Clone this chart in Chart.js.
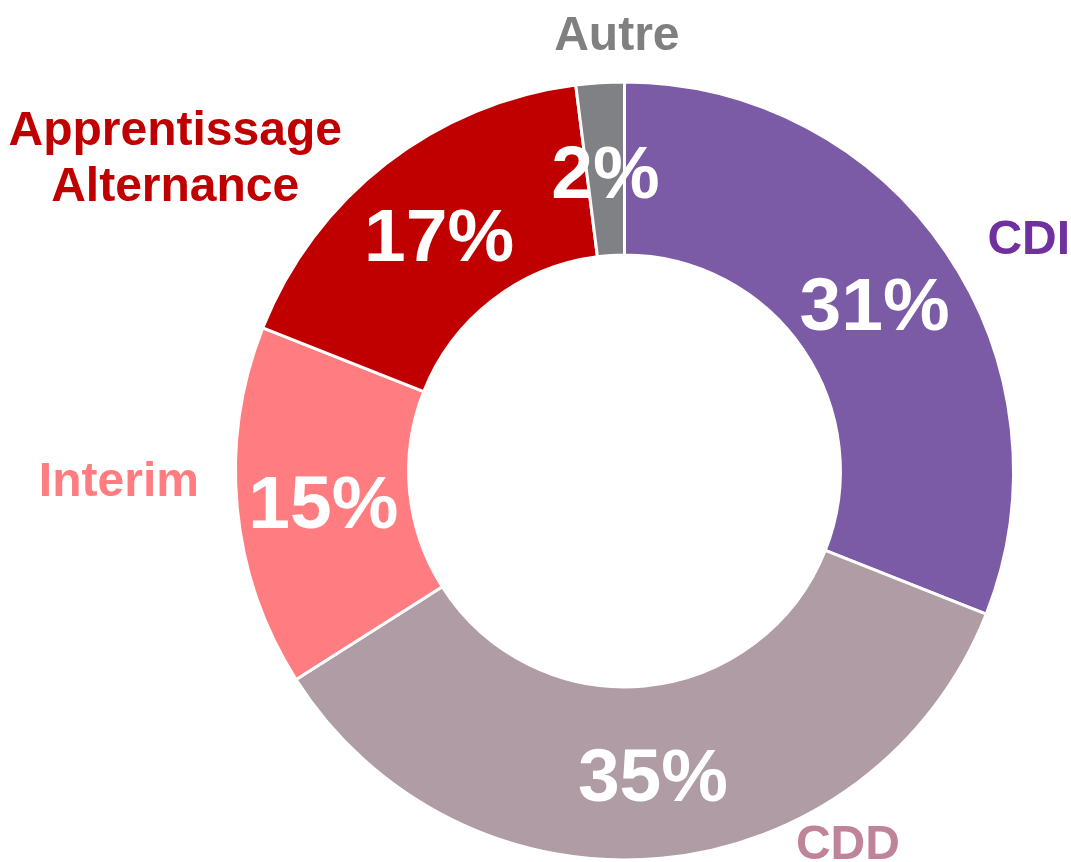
<!DOCTYPE html>
<html lang="fr">
<head>
  <meta charset="UTF-8" />
  <title>Répartition des contrats</title>
  <script src="https://cdn.jsdelivr.net/npm/chart.js"></script>
  <style>
    html, body { margin: 0; padding: 0; background: #fff; }
    #wrap { width: 1071px; height: 862px; }
  </style>
</head>
<body>
  <div id="wrap"><canvas id="contratChart"></canvas></div>
  <script>
    // données
    const categories = ['CDI', 'CDD', 'Interim', 'Apprentissage\nAlternance', 'Autre'];
    const valeurs = [31, 35, 15, 17, 2];

    const sliceColors = ['#7B5AA6', '#B09CA4', '#FF7C80', '#C00000', '#808184'];
    const labelColors = ['#7030A0', '#C0849A', '#FF7C80', '#C00000', '#808080'];

    // placement des étiquettes extérieures : angle (degrés depuis le haut) et rayon relatif
    const labelAngles = [60, 149, 269, 305, 359];
    const labelRadius = [1.20, 1.115, 1.30, 1.41, 1.125];

    const FONT = '"Liberation Sans", Arial, sans-serif';

    const labelPlugin = {
      id: 'labelPlugin',
      afterDatasetsDraw(chart) {
        const ctx = chart.ctx;
        const meta = chart.getDatasetMeta(0);
        ctx.save();
        ctx.textAlign = 'center';
        ctx.textBaseline = 'middle';
        meta.data.forEach((arc, i) => {
          // pourcentage au milieu de l'anneau
          const p = arc.getCenterPoint();
          ctx.fillStyle = '#fff';
          ctx.font = 'bold 75px ' + FONT;
          ctx.fillText(valeurs[i] + '%', p.x, p.y + 8);

          // nom de la catégorie à l'extérieur
          const a = labelAngles[i] * Math.PI / 180;
          const r = arc.outerRadius * labelRadius[i];
          const x = arc.x + r * Math.sin(a);
          const y = arc.y - r * Math.cos(a) + 3;
          const lines = categories[i].split('\n');
          const lh = 56;
          ctx.fillStyle = labelColors[i];
          ctx.font = 'bold 48px ' + FONT;
          lines.forEach((t, k) => {
            ctx.fillText(t, x, y + (k - (lines.length - 1) / 2) * lh);
          });
        });
        ctx.restore();
      }
    };

    new Chart(document.getElementById('contratChart'), {
      type: 'doughnut',
      data: {
        labels: categories,
        datasets: [{
          data: valeurs,
          backgroundColor: sliceColors,
          borderColor: '#fff',
          borderWidth: 3
        }]
      },
      options: {
        responsive: true,
        maintainAspectRatio: false,
        animation: false,
        cutout: '55.5%',
        layout: { padding: { left: 234, right: 56, top: 80, bottom: 0 } },
        plugins: {
          legend: { display: false },
          tooltip: { enabled: false }
        }
      },
      plugins: [labelPlugin]
    });
  </script>
</body>
</html>
